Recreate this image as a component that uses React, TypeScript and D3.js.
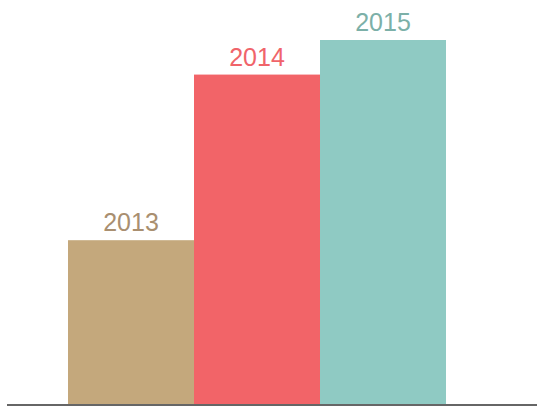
import React from "react";
import * as d3 from "d3";

const years = ["2013", "2014", "2015"];
const values = [45, 90.5, 100];
const barColors = ["#c4a87c", "#f26468", "#8fcac3"];
const labelColors = ["#a98f70", "#f0646a", "#7cb0a8"];

export default function App() {
  const W = 537;
  const H = 407;
  const baseY = 404;
  const x = d3.scaleBand<string>().domain(years).range([68, 446]).padding(0);
  const y = d3.scaleLinear().domain([0, 100]).range([baseY, 40]);
  return (
    <svg
      width={W}
      height={H}
      style={{ position: "absolute", left: 0, top: 0, display: "block" }}
    >
      {years.map((yr, i) => (
        <g key={yr}>
          <rect
            x={x(yr)}
            y={y(values[i])}
            width={x.bandwidth()}
            height={baseY - y(values[i])}
            fill={barColors[i]}
          />
          <text
            x={(x(yr) as number) + x.bandwidth() / 2}
            y={y(values[i]) - 9}
            textAnchor="middle"
            fontFamily="Liberation Sans, Arial, sans-serif"
            fontSize={25}
            fill={labelColors[i]}
          >
            {yr}
          </text>
        </g>
      ))}
      <line x1={7} x2={W} y1={405} y2={405} stroke="#666666" strokeWidth={2} />
    </svg>
  );
}
